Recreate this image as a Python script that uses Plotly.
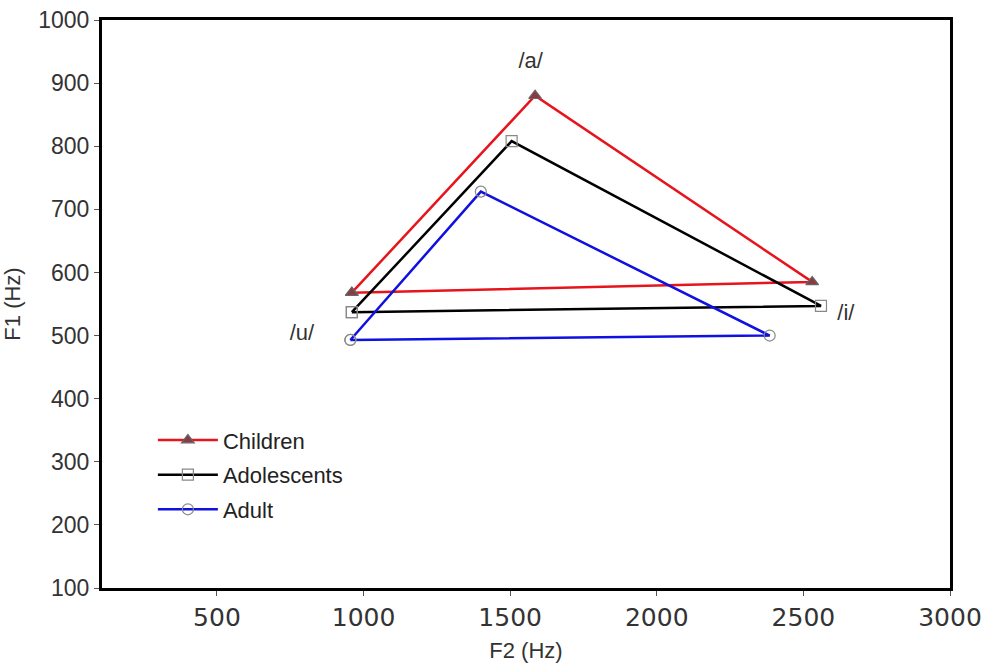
import plotly.graph_objects as go

vowels = ["/u/", "/a/", "/i/", "/u/"]
groups = ["Children", "Adolescents", "Adult"]
f2_children = [960, 1585, 2530, 960]
f1_children = [568, 880, 585, 568]
f2_adolescents = [960, 1505, 2560, 960]
f1_adolescents = [537, 808, 547, 537]
f2_adult = [955, 1400, 2385, 955]
f1_adult = [493, 728, 500, 493]

label_text = ["/a/", "/u/", "/i/"]
label_f2 = [1570, 790, 2645]
label_f1 = [932, 501, 533]

colors = ["#e8141c", "#000000", "#1010e0"]
symbols = ["triangle-up", "square-open", "circle-open"]
marker_fill = ["#8a3a44", "#888888", "#888888"]

fig = go.Figure()
series = [(f2_children, f1_children), (f2_adolescents, f1_adolescents), (f2_adult, f1_adult)]
for i, (xs, ys) in enumerate(series):
    fig.add_trace(go.Scatter(
        x=xs, y=ys, mode="lines+markers", name=groups[i], text=vowels,
        legendgroup=groups[i],
        line=dict(color=colors[i], width=2.5),
        marker=dict(symbol=symbols[i], size=11, color=marker_fill[i],
                    line=dict(color="#666666", width=1.2)),
    ))

fig.add_trace(go.Scatter(
    x=label_f2, y=label_f1, mode="text", text=label_text, showlegend=False,
    textfont=dict(family="Liberation Sans", size=22, color="#333333"),
))

fig.update_layout(
    width=995, height=666,
    margin=dict(l=102, r=45, t=20, b=78),
    paper_bgcolor="white", plot_bgcolor="white",
    showlegend=True,
    legend=dict(x=0.06, y=0.297, xanchor="left", yanchor="top",
                bgcolor="rgba(0,0,0,0)", font=dict(family="Liberation Sans", size=22, color="#222222"),
                itemwidth=60, traceorder="grouped", tracegroupgap=3),
    xaxis=dict(range=[108, 3000], tickvals=[500, 1000, 1500, 2000, 2500, 3000], automargin=False,
               showgrid=False, zeroline=False, showline=True, linecolor="black", linewidth=3,
               mirror=True, ticks="outside", ticklen=5, tickcolor="#555555",
               tickfont=dict(family="DejaVu Sans", size=25, color="#333333"),
               title=dict(text="F2 (Hz)", font=dict(family="Liberation Sans", size=22, color="#333333"), standoff=12)),
    yaxis=dict(range=[100, 1000], tickvals=list(range(100, 1001, 100)), automargin=False,
               showgrid=False, zeroline=False, showline=True, linecolor="black", linewidth=3,
               mirror=True, ticks="outside", ticklen=5, tickcolor="#555555",
               tickfont=dict(family="Liberation Sans", size=23, color="#333333"),
               title=dict(text="F1 (Hz)", font=dict(family="Liberation Sans", size=22, color="#333333"), standoff=14)),
)

fig.write_html("out.html")
